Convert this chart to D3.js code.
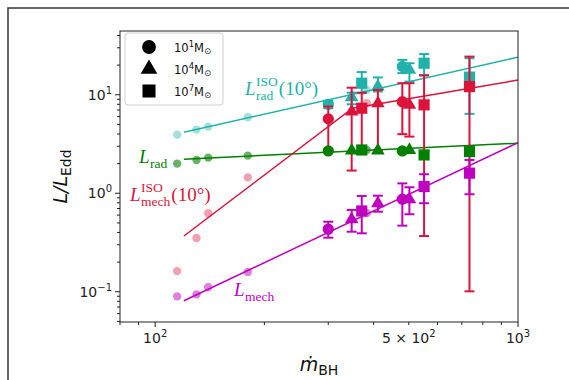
<!DOCTYPE html>
<html>
<head>
<meta charset="utf-8">
<script src="https://cdn.jsdelivr.net/npm/d3@7"></script>
<style>
  body { margin: 0; background: #fff; }
  svg { display: block; }
</style>
</head>
<body>
<script>
const width = 569;
const height = 380;

// Faded low-accretion points
const fadedX = [115, 130, 140, 180, 383];
const fadedRadIso = [3.94, 4.43, 4.75, 5.92, 11.2];
const fadedRad = [2.0, 2.18, 2.30, 2.41, 2.75];
const fadedMechIso = [0.162, 0.351, 0.626, 1.45, 8.2];
const fadedMech = [0.0898, 0.094, 0.111, 0.159, 0.63];

// Simulation points (x, BH mass per run)
const simX = [300, 348, 371, 411, 480, 502, 551, 735];
const simMass = ["1e1", "1e4", "1e7", "1e4", "1e1", "1e4", "1e7", "1e7"];

const radIso   = [8.0, 9.4, 13.1, 12.1, 19.4, 17.9, 20.9, 15.1];
const radIsoLo = [7.3, 8.0, 10.4, 10.8, 16.6, 13.6, 15.9, 6.4];
const radIsoHi = [8.7, 10.5, 17.0, 15.0, 22.6, 20.9, 25.9, 23.5];

const mechIso   = [5.69, 6.75, 7.3, 8.2, 8.5, 7.9, 7.9, 12.1];
const mechIsoLo = [2.75, 1.7, 2.75, 2.75, 3.98, 3.76, 0.368, 0.101];
const mechIsoHi = [7.6, 11.8, 10.5, 11.2, 13.1, 13.1, 15.7, 24.4];

const rad = [2.69, 2.71, 2.75, 2.72, 2.69, 2.75, 2.45, 2.65];

const mech   = [0.431, 0.544, 0.661, 0.792, 0.869, 0.869, 1.17, 1.6];
const mechLo = [0.354, 0.407, 0.392, 0.65, 0.469, 0.612, 0.792, 0.977];
const mechHi = [0.514, 0.677, 0.939, 0.945, 1.26, 1.15, 1.56, 2.18];

// Fit lines
const fitX = [120, 1000];
const fitRadIso = [4.17, 24.1];
const fitRad = [2.22, 3.22];
const fitMech = [0.081, 3.27];
const fitMechIsoX = [120, 350, 1000];
const fitMechIso = [0.368, 7.3, 14.1];

// Legend
const legendMass = ["1e1", "1e4", "1e7"];
const legendExp = ["1", "4", "7"];

const xTicksMajor = [100, 1000];
const xTicksMinor = [80, 90, 200, 300, 400, 500, 600, 700, 800, 900];
const yTicksMajor = [0.1, 1, 10];

const colors = {
    radIso: "#20b2aa",
    rad: "#008000",
    mechIso: "#dc143c",
    mech: "#bf00bf"
};

let margin = {top: 31, right: 51, bottom: 58, left: 120};

let svg = d3.select("body").append("svg")
    .attr("width", width)
    .attr("height", height);

// outer frame
svg.append("rect")
    .attr("x", 8).attr("y", 8)
    .attr("width", width + 20).attr("height", height + 20)
    .attr("fill", "none")
    .attr("stroke", "#333")
    .attr("stroke-width", 1.5);

let x = d3.scaleLog()
    .domain([80, 1000])
    .range([margin.left, width - margin.right]);

let y = d3.scaleLog()
    .domain([0.0493, 44.4])
    .range([height - margin.bottom, margin.top]);

let plot = svg.append("g");

// clip
svg.append("clipPath").attr("id", "clip")
    .append("rect")
    .attr("x", margin.left).attr("y", margin.top)
    .attr("width", x.range()[1] - x.range()[0])
    .attr("height", y.range()[0] - y.range()[1]);
plot.attr("clip-path", "url(#clip)");

///////////////
// Markers   //
///////////////
const shapeOf = {"1e1": d3.symbolCircle, "1e4": d3.symbolTriangle, "1e7": d3.symbolSquare};
const sizeOf = {"1e1": 100, "1e4": 80, "1e7": 125};

function drawLine(xs, ys, color) {
    let pts = xs.map((d, i) => [x(d), y(ys[i])]);
    plot.append("path")
        .attr("d", d3.line()(pts))
        .attr("fill", "none")
        .attr("stroke", color)
        .attr("stroke-width", 1.5);
}

function drawFaded(ys, color, alpha) {
    plot.append("g").selectAll("circle")
        .data(fadedX)
        .join("circle")
        .attr("cx", d => x(d))
        .attr("cy", (d, i) => y(ys[i]))
        .attr("r", 4.2)
        .attr("fill", color)
        .attr("fill-opacity", alpha);
}

function drawSim(vals, lo, hi, color) {
    let g = plot.append("g");
    if (lo) {
        simX.forEach((d, i) => {
            let cx = x(d);
            g.append("line")
                .attr("x1", cx).attr("x2", cx)
                .attr("y1", y(lo[i])).attr("y2", y(hi[i]))
                .attr("stroke", color).attr("stroke-width", 2);
            [lo[i], hi[i]].forEach(v => {
                g.append("line")
                    .attr("x1", cx - 5).attr("x2", cx + 5)
                    .attr("y1", y(v)).attr("y2", y(v))
                    .attr("stroke", color).attr("stroke-width", 2);
            });
        });
    }
    g.selectAll("path.mk")
        .data(simX)
        .join("path")
        .attr("class", "mk")
        .attr("d", (d, i) => d3.symbol(shapeOf[simMass[i]], sizeOf[simMass[i]])())
        .attr("transform", (d, i) => `translate(${x(d)},${y(vals[i])})`)
        .attr("fill", color);
}

drawFaded(fadedRadIso, colors.radIso, 0.4);
drawFaded(fadedRad, colors.rad, 0.6);
drawFaded(fadedMechIso, colors.mechIso, 0.4);
drawFaded(fadedMech, colors.mech, 0.5);

drawLine(fitX, fitRadIso, colors.radIso);
drawLine(fitX, fitRad, colors.rad);
drawLine(fitMechIsoX, fitMechIso, colors.mechIso);
drawLine(fitX, fitMech, colors.mech);

drawSim(radIso, radIsoLo, radIsoHi, colors.radIso);
drawSim(mechIso, mechIsoLo, mechIsoHi, colors.mechIso);
drawSim(rad, null, null, colors.rad);
drawSim(mech, mechLo, mechHi, colors.mech);

///////////////
// Axes      //
///////////////
svg.append("rect")
    .attr("x", margin.left).attr("y", margin.top)
    .attr("width", x.range()[1] - x.range()[0])
    .attr("height", y.range()[0] - y.range()[1])
    .attr("fill", "none")
    .attr("stroke", "#222")
    .attr("stroke-width", 1);

let axisG = svg.append("g").attr("stroke", "#222");
let yb = y.range()[0];
xTicksMajor.forEach(d => {
    axisG.append("line").attr("x1", x(d)).attr("x2", x(d)).attr("y1", yb).attr("y2", yb + 5);
});
xTicksMinor.forEach(d => {
    axisG.append("line").attr("x1", x(d)).attr("x2", x(d)).attr("y1", yb).attr("y2", yb + 3);
});
let yMinor = [];
[0.01, 0.1, 1, 10].forEach(dec => {
    for (let k = 2; k <= 9; k++) {
        let v = dec * k;
        if (v >= y.domain()[0] && v <= y.domain()[1]) yMinor.push(v);
    }
});
yTicksMajor.forEach(d => {
    axisG.append("line").attr("x1", margin.left - 5).attr("x2", margin.left).attr("y1", y(d)).attr("y2", y(d));
});
yMinor.forEach(d => {
    axisG.append("line").attr("x1", margin.left - 3).attr("x2", margin.left).attr("y1", y(d)).attr("y2", y(d));
});

const font = "DejaVu Sans, sans-serif";

function powLabel(xp, yp, anchor, prefix, base, exp) {
    let t = svg.append("text")
        .attr("x", xp).attr("y", yp)
        .attr("text-anchor", anchor)
        .attr("font-family", font)
        .attr("font-size", 14)
        .attr("fill", "#222");
    t.append("tspan").text(prefix + base);
    t.append("tspan").attr("dy", -6).attr("font-size", 10).text(exp);
}

powLabel(x(100), yb + 21, "middle", "", "10", "2");
powLabel(x(500), yb + 21, "middle", "5 × ", "10", "2");
powLabel(x(1000), yb + 21, "middle", "", "10", "3");
powLabel(margin.left - 8, y(10) + 5, "end", "", "10", "1");
powLabel(margin.left - 8, y(1) + 5, "end", "", "10", "0");
powLabel(margin.left - 8, y(0.1) + 5, "end", "", "10", "\u22121");

// Axis titles
let xt = svg.append("text")
    .attr("x", (x.range()[0] + x.range()[1]) / 2)
    .attr("y", 371)
    .attr("text-anchor", "middle")
    .attr("font-family", font)
    .attr("font-size", 19)
    .attr("fill", "#111");
xt.append("tspan").attr("font-style", "italic").text("\u1e41");
xt.append("tspan").attr("dy", 4).attr("font-size", 14).text("BH");

let yt = svg.append("text")
    .attr("transform", `translate(67, ${(y.range()[0] + y.range()[1]) / 2}) rotate(-90)`)
    .attr("text-anchor", "middle")
    .attr("font-family", font)
    .attr("font-size", 19)
    .attr("fill", "#111");
yt.append("tspan").attr("font-style", "italic").text("L/L");
yt.append("tspan").attr("dy", 4).attr("font-size", 14).text("Edd");

///////////////
// Labels    //
///////////////
function mathLabel(xp, yp, color, sub, sup, tail) {
    let g = svg.append("g").attr("fill", color).attr("font-family", "Liberation Serif, Times New Roman, serif");
    let L = g.append("text").attr("x", xp).attr("y", yp)
        .attr("font-size", 19).attr("font-style", "italic").text("L");
    let w = L.node().getComputedTextLength();
    let sx = xp + w + 0.5;
    let subT = g.append("text").attr("x", sx).attr("y", yp + 5)
        .attr("font-size", 13.5).text(sub);
    let maxW = subT.node().getComputedTextLength();
    if (sup) {
        let supT = g.append("text").attr("x", sx).attr("y", yp - 9)
            .attr("font-size", 13.5).text(sup);
        maxW = Math.max(maxW, supT.node().getComputedTextLength());
    }
    if (tail) {
        g.append("text").attr("x", sx + maxW + 1).attr("y", yp)
            .attr("font-size", 19).text(tail);
    }
}

mathLabel(245, 95, colors.radIso, "rad", "ISO", "(10°)");
mathLabel(139, 163, colors.rad, "rad", null, null);
mathLabel(130, 201, colors.mechIso, "mech", "ISO", "(10°)");
mathLabel(234, 296, colors.mech, "mech", null, null);

///////////////
// Legend    //
///////////////
let leg = svg.append("g");
leg.append("rect")
    .attr("x", 125).attr("y", 33)
    .attr("width", 98).attr("height", 72)
    .attr("rx", 3)
    .attr("fill", "#fff").attr("fill-opacity", 0.85)
    .attr("stroke", "#d0d0d0");
legendMass.forEach((m, i) => {
    let cy = 47 + i * 22;
    leg.append("path")
        .attr("d", d3.symbol(shapeOf[m], m === "1e1" ? 150 : (m === "1e4" ? 120 : 170))())
        .attr("transform", `translate(149,${cy})`)
        .attr("fill", "#000");
    let t = leg.append("text")
        .attr("x", 174).attr("y", cy + 4.5)
        .attr("font-family", font)
        .attr("font-size", 11.5)
        .attr("fill", "#111");
    t.append("tspan").text("10");
    t.append("tspan").attr("dy", -5).attr("font-size", 8.5).text(legendExp[i]);
    t.append("tspan").attr("dy", 5).text("M");
    t.append("tspan").attr("dy", 2).attr("font-size", 8.5).text("\u2299");
});
</script>
</body>
</html>
